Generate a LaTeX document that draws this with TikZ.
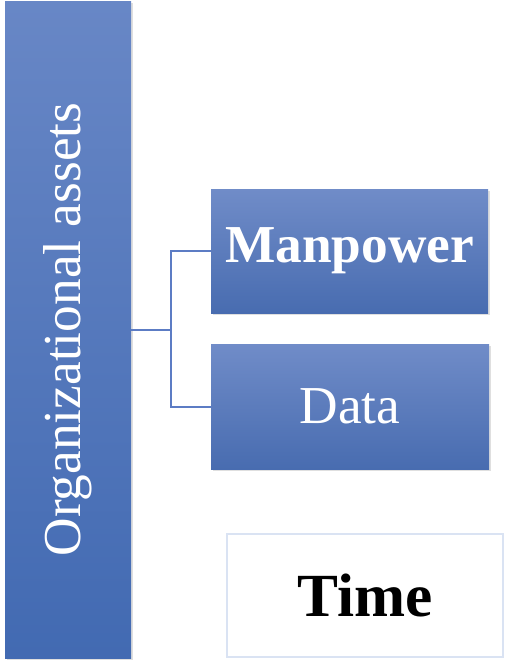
\documentclass[tikz,border=0pt]{standalone}
\usepackage{fontspec}
\setmainfont{Liberation Serif}
\usepackage{graphicx}
\usetikzlibrary{shadows}
\definecolor{boxtop}{RGB}{112,140,200}
\definecolor{boxbot}{RGB}{72,108,176}
\definecolor{bartop}{RGB}{104,135,198}
\definecolor{barbot}{RGB}{66,106,178}
\definecolor{linkblue}{RGB}{92,124,196}
\definecolor{timeedge}{RGB}{218,227,243}
\tikzset{
  bluebox/.style={rectangle, inner sep=0pt, text=white, top color=boxtop, bottom color=boxbot,
    drop shadow={opacity=0.25, shadow xshift=1.2pt, shadow yshift=-1.5pt}},
  link/.style={draw=linkblue, line width=1.5pt},
}
\begin{document}
\begin{tikzpicture}[x=0.75pt, y=-0.75pt]
    \useasboundingbox (0,0) rectangle (504,661);
    \node[bluebox, top color=bartop, bottom color=barbot, minimum width=94.5pt, minimum height=492.75pt,
      font=\fontsize{40}{48}\selectfont] (bar) at (68,329.5) {\rotatebox{90}{Organizational assets}};
    \node[bluebox, minimum width=207.75pt, minimum height=93pt,
      font=\fontsize{40}{48}\selectfont\bfseries] (man) at (349.5,251) {Manpower};
    \node[bluebox, minimum width=208.5pt, minimum height=93.75pt,
      font=\fontsize{40}{48}\selectfont] (data) at (350,406.5) {Data};
    \node[rectangle, draw=timeedge, line width=1.2pt, fill=white, minimum width=207pt, minimum height=92.25pt,
      font=\fontsize{46}{54}\selectfont\bfseries] (time) at (365,595.5) {Time};
    \coordinate (fork) at (171,329.5);
    \draw[link] (bar.east) -- (fork);
    \draw[link] (fork) |- (man.west);
    \draw[link] (fork) |- (data.west);
\end{tikzpicture}
\end{document}
